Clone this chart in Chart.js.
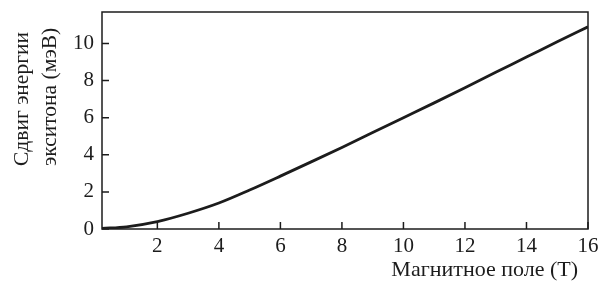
<!DOCTYPE html>
<html>
<head>
<meta charset="UTF-8">
<script src="https://cdn.jsdelivr.net/npm/chart.js"></script>
<style>
  body { margin: 0; background: #fff; }
  #wrap { width: 598px; height: 282px; }
</style>
</head>
<body>
<div id="wrap"><canvas id="c"></canvas></div>
<script>
const field = [0.2, 1, 2, 3, 4, 5, 6, 7, 8, 9, 10, 11, 12, 13, 14, 15, 16];
const shift = [0.03, 0.12, 0.4, 0.85, 1.4, 2.1, 2.85, 3.62, 4.4, 5.2, 6.0, 6.8, 7.62, 8.45, 9.27, 10.1, 10.9];
const xTicks = [2, 4, 6, 8, 10, 12, 14, 16];
const yTicks = [0, 2, 4, 6, 8, 10];
const yTitle = ['Сдвиг энергии', 'экситона (мэВ)'];
const xTitle = 'Магнитное поле (Т)';

const ink = '#1c1c1c';
const serif = '"Liberation Serif", "DejaVu Serif", serif';

// box, inward ticks and axis titles
const frame = {
    id: 'frame',
    afterDraw(chart) {
        const { ctx, chartArea: a, scales } = chart;
        ctx.save();
        ctx.strokeStyle = ink;
        ctx.lineWidth = 1.5;
        ctx.strokeRect(a.left, a.top, a.right - a.left, a.bottom - a.top);
        ctx.beginPath();
        xTicks.forEach(v => {
            const px = scales.x.getPixelForValue(v);
            ctx.moveTo(px, a.bottom);
            ctx.lineTo(px, a.bottom - 7);
        });
        yTicks.forEach(v => {
            const py = scales.y.getPixelForValue(v);
            ctx.moveTo(a.left, py);
            ctx.lineTo(a.left + 7, py);
        });
        ctx.stroke();

        ctx.fillStyle = ink;
        ctx.font = '22px ' + serif;
        ctx.textAlign = 'right';
        ctx.textBaseline = 'middle';
        ctx.fillText(xTitle, 578, 270);

        ctx.font = '21.5px ' + serif;
        ctx.textAlign = 'left';
        ctx.translate(0, 166);
        ctx.rotate(-Math.PI / 2);
        ctx.fillText(yTitle[0], 0, 22);
        ctx.fillText(yTitle[1], 0, 50);
        ctx.restore();
    }
};

new Chart(document.getElementById('c'), {
    type: 'line',
    data: {
        datasets: [{
            data: field.map((x, i) => ({ x, y: shift[i] })),
            borderColor: ink,
            borderWidth: 2.8,
            pointRadius: 0,
            cubicInterpolationMode: 'monotone',
            fill: false
        }]
    },
    options: {
        responsive: true,
        maintainAspectRatio: false,
        animation: false,
        layout: { padding: { top: 12, right: 10, left: 0, bottom: 0 } },
        plugins: { legend: { display: false }, tooltip: { enabled: false } },
        scales: {
            x: {
                type: 'linear',
                min: 0.2,
                max: 16,
                afterBuildTicks: s => { s.ticks = xTicks.map(v => ({ value: v })); },
                afterFit: s => { s.height = 53; s.paddingLeft = 0; s.paddingRight = 0; },
                grid: { display: false, drawTicks: false },
                border: { display: false },
                ticks: { color: ink, font: { family: serif, size: 21 }, padding: 5, maxRotation: 0 }
            },
            y: {
                min: 0,
                max: 11.7,
                afterBuildTicks: s => { s.ticks = yTicks.map(v => ({ value: v })); },
                afterFit: s => { s.width = 102; s.paddingTop = 0; s.paddingBottom = 0; },
                grid: { display: false, drawTicks: false },
                border: { display: false },
                ticks: { color: ink, font: { family: serif, size: 21 }, padding: 8 }
            }
        }
    },
    plugins: [frame]
});
</script>
</body>
</html>
